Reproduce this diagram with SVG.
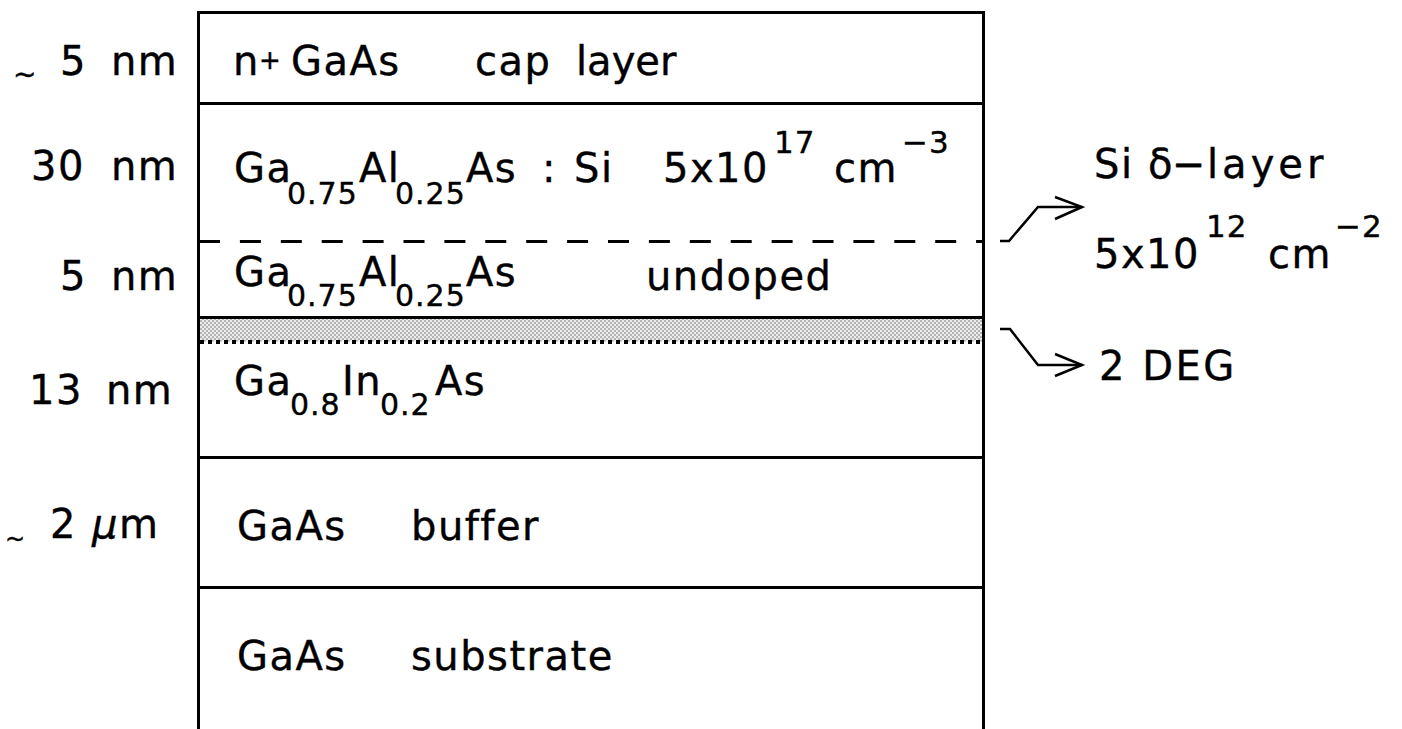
<svg xmlns="http://www.w3.org/2000/svg" width="1402" height="729" viewBox="0 0 1402 729">
<style>
text{font-family:"DejaVu Sans","Liberation Sans",sans-serif;fill:#000;letter-spacing:1.5px;stroke:#000;stroke-width:0.4}
.m{font-size:40px}
.s{font-size:30px;letter-spacing:1px}
.p{font-size:31px;letter-spacing:1px}
.ln{stroke:#000;stroke-width:3;fill:none}
.ar{stroke:#000;stroke-width:2.5;fill:none;stroke-linejoin:miter}
</style>
<defs>
<pattern id="chk" width="4" height="4" patternUnits="userSpaceOnUse">
<rect width="4" height="4" fill="#ebebeb"/>
<rect width="2" height="2" fill="#b4b4b4"/>
<rect x="2" y="2" width="2" height="2" fill="#b4b4b4"/>
</pattern>
</defs>
<rect width="1402" height="729" fill="#fff"/>

<g id="frame">
<line class="ln" x1="198.5" y1="11" x2="198.5" y2="729"/>
<line class="ln" x1="983.5" y1="11" x2="983.5" y2="729"/>
<line class="ln" x1="197" y1="12.5" x2="985" y2="12.5"/>
</g>

<g id="cap-layer">
<line class="ln" x1="198" y1="103.5" x2="983" y2="103.5"/>
<text x="13" y="84" style="font-size:28px">~</text>
<text class="m" x="60" y="75">5</text>
<text class="m" x="111" y="75">nm</text>
<text class="m" x="233" y="75">n</text>
<text x="259" y="69" style="font-size:26px">+</text>
<text class="m" x="291" y="75">GaAs</text>
<text class="m" x="475" y="75">cap</text>
<text class="m" x="576" y="75" style="letter-spacing:0px">layer</text>
</g>

<g id="doped-layer">
<line class="ln" x1="199" y1="241.5" x2="983" y2="241.5" stroke-dasharray="21 19.9"/>
<text class="m" x="31" y="180">30</text>
<text class="m" x="111" y="180">nm</text>
<text class="m" x="234" y="182">Ga</text>
<text class="s" x="287" y="204">0.75</text>
<text class="m" x="359" y="182">Al</text>
<text class="s" x="395" y="204">0.25</text>
<text class="m" x="466" y="182">As</text>
<text class="m" x="542" y="182">:</text>
<text class="m" x="574" y="182">Si</text>
<text class="m" x="663" y="182">5x10</text>
<text class="p" x="774" y="153">17</text>
<text class="m" x="834" y="182">cm</text>
<text class="p" x="902" y="153">−3</text>
</g>

<g id="undoped-layer">
<text class="m" x="60" y="290">5</text>
<text class="m" x="111" y="290">nm</text>
<text class="m" x="234" y="286">Ga</text>
<text class="s" x="287" y="306">0.75</text>
<text class="m" x="359" y="286">Al</text>
<text class="s" x="395" y="306">0.25</text>
<text class="m" x="466" y="286">As</text>
<text class="m" x="646" y="290">undoped</text>
</g>

<g id="two-deg">
<rect x="200" y="318.5" width="782" height="23" fill="url(#chk)"/>
<line class="ln" x1="198" y1="317.5" x2="983" y2="317.5"/>
<line x1="200" y1="342" x2="983" y2="342" stroke="#000" stroke-width="4" stroke-dasharray="4 4"/>
</g>

<g id="ingaas-layer">
<line class="ln" x1="198" y1="457.5" x2="983" y2="457.5"/>
<text class="m" x="29" y="404">13</text>
<text class="m" x="106" y="404">nm</text>
<text class="m" x="234" y="395">Ga</text>
<text class="s" x="290" y="415">0.8</text>
<text class="m" x="342" y="395">In</text>
<text class="s" x="380" y="415">0.2</text>
<text class="m" x="435" y="395">As</text>
</g>

<g id="buffer-layer">
<line class="ln" x1="198" y1="587.5" x2="983" y2="587.5"/>
<text x="5" y="547" style="font-size:24px">~</text>
<text class="m" x="50" y="538">2</text>
<text class="m" x="92" y="538"><tspan font-style="italic">μ</tspan>m</text>
<text class="m" x="237" y="540">GaAs</text>
<text class="m" x="411" y="540">buffer</text>
</g>

<g id="substrate">
<text class="m" x="237" y="670">GaAs</text>
<text class="m" x="411" y="670">substrate</text>
</g>

<g id="delta-label">
<text class="m" x="1094" y="178">Si <tspan x="1148">δ</tspan><tspan x="1172">−</tspan><tspan x="1207" style="letter-spacing:4px">layer</tspan></text>
<text class="m" x="1094" y="268">5x10</text>
<text class="p" x="1206" y="237">12</text>
<text class="m" x="1268" y="268">cm</text>
<text class="p" x="1335" y="237">−2</text>
</g>

<g id="deg-label">
<text class="m" x="1099" y="380" style="letter-spacing:2.5px">2 DEG</text>
</g>

<g id="connectors">
<polyline class="ar" points="1000,241 1009,241 1038,207 1082,207"/>
<polyline class="ar" points="1055,197 1082,207 1055,219"/>
<polyline class="ar" points="1000,329 1010,329 1038,365 1082,365"/>
<polyline class="ar" points="1055,354 1082,365 1055,376"/>
</g>
</svg>
